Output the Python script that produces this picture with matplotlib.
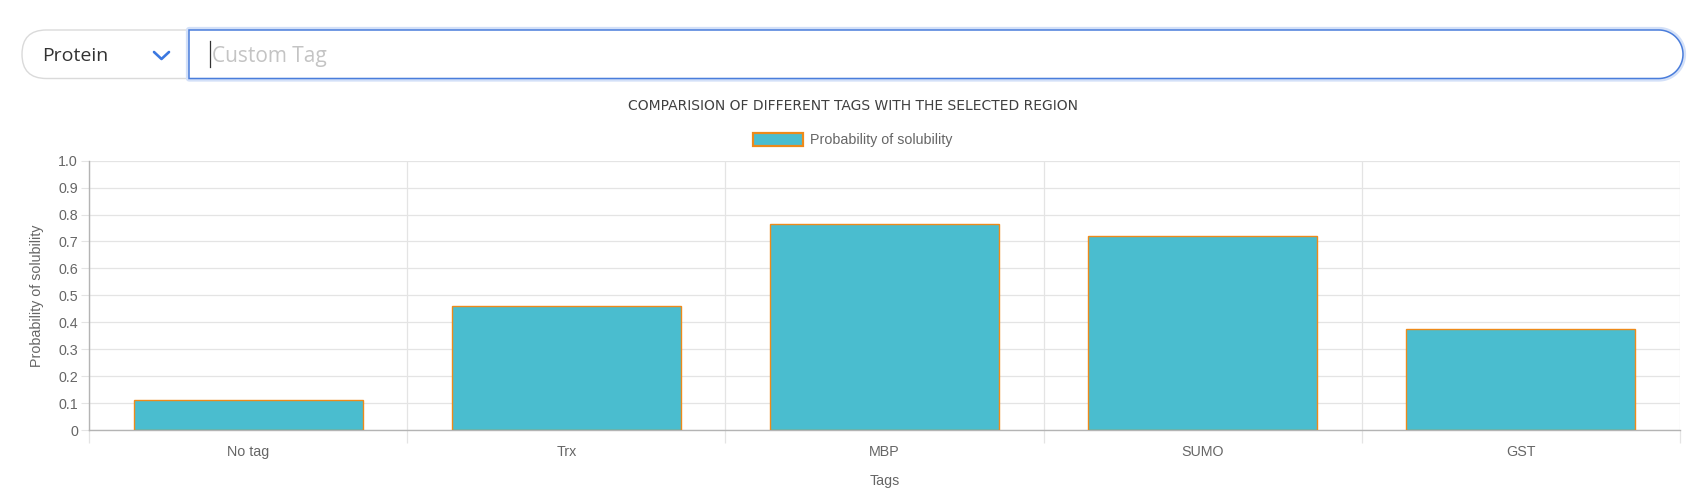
import matplotlib
matplotlib.use('Agg')
import matplotlib.pyplot as plt
import numpy as np
from matplotlib.patches import FancyBboxPatch, Polygon

# chart data
tags = ['No tag', 'Trx', 'MBP', 'SUMO', 'GST']
solubility = [0.113, 0.46, 0.766, 0.719, 0.375]
y_ticks = [0, 0.1, 0.2, 0.3, 0.4, 0.5, 0.6, 0.7, 0.8, 0.9, 1.0]
y_tick_labels = ['0', '0.1', '0.2', '0.3', '0.4', '0.5', '0.6', '0.7', '0.8', '0.9', '1.0']

W, H = 1705, 501
BAR_FILL = '#4abdcf'
BAR_EDGE = '#ee8a1a'
GRID = '#e4e4e4'
AXIS = '#b4b4b4'
TXT = '#666666'
FS = 10.3

plt.rcParams['font.family'] = ['Liberation Sans', 'DejaVu Sans']

fig = plt.figure(figsize=(W / 100, H / 100), dpi=100)

# ---- the form controls above the chart, in pixel coordinates
ui = fig.add_axes([0, 0, 1, 1])
ui.set_xlim(0, W)
ui.set_ylim(H, 0)
ui.axis('off')
ui.patch.set_alpha(0)

top, bot = 30, 78.5
r = (bot - top) / 2

# dropdown pill
ui.add_patch(FancyBboxPatch((22, top), 200, bot - top,
                            boxstyle='round,pad=0,rounding_size=%f' % r,
                            fc='white', ec='#dadada', lw=1.0))

# input box: square left side, round right side
ang = np.linspace(np.pi / 2, -np.pi / 2, 40)
cx = 1683 - r
pts = [(189, top)] + [(cx + r * np.cos(a), top + r - r * np.sin(a)) for a in ang] + [(189, bot)]
ui.add_patch(Polygon(pts, closed=True, fc='none', ec='#d3e0f8', lw=4.5, joinstyle='round'))
ui.add_patch(Polygon(pts, closed=True, fc='white', ec='#4a7ddb', lw=1.1))

ui.text(42, 56, 'Protein', fontsize=14, color='#333333', va='center', ha='left',
        family=['Open Sans', 'DejaVu Sans'])
ui.plot([154, 161.5, 169], [52, 59, 52], color='#3b78e0', lw=1.9, solid_capstyle='round')
ui.plot([210, 210], [41, 67], color='#333333', lw=0.9)
ui.text(212, 56, 'Custom Tag', fontsize=15, color='#c4c4c4', va='center', ha='left',
        family=['Open Sans', 'DejaVu Sans'])

# ---- chart
left, right, ytop, ybot = 89, 1680, 160.7, 430
ax = fig.add_axes([left / W, 1 - ybot / H, (right - left) / W, (ybot - ytop) / H])
x = np.arange(len(tags))
bars = ax.bar(x, solubility, width=0.72, color=BAR_FILL, edgecolor=BAR_EDGE,
              linewidth=1.0, label='Probability of solubility', zorder=3)

ax.set_xlim(-0.5, len(tags) - 0.5)
ax.set_ylim(0, 1.0)
ax.set_yticks(y_ticks)
ax.set_yticklabels(y_tick_labels)
ax.set_xticks(x)
ax.set_xticklabels(tags)
ax.set_xticks(np.arange(-0.5, len(tags)), minor=True)

ax.grid(True, axis='y', which='major', color=GRID, lw=0.9, zorder=0)
ax.grid(True, axis='x', which='minor', color=GRID, lw=0.9, zorder=0)
for s in ['top', 'right']:
    ax.spines[s].set_visible(False)
for s in ['left', 'bottom']:
    ax.spines[s].set_color(AXIS)
    ax.spines[s].set_linewidth(1.0)

ax.tick_params(axis='y', length=6, color=GRID, labelsize=FS, labelcolor=TXT, pad=2)
ax.tick_params(axis='x', which='major', length=0, labelsize=FS, labelcolor=TXT, pad=10.5)
ax.tick_params(axis='x', which='minor', length=9, color=GRID, width=0.9)
ax.xaxis.get_minor_ticks()[0].tick1line.set_color(AXIS)

ax.set_ylabel('Probability of solubility', fontsize=FS, color=TXT, labelpad=10)
ax.set_xlabel('Tags', fontsize=FS, color=TXT, labelpad=11)

leg = ax.legend(loc='center', bbox_to_anchor=(0.5, 1 - 140 / H), bbox_transform=fig.transFigure,
                frameon=False, fontsize=FS, handlelength=3.55, handleheight=1.1,
                handletextpad=0.45, borderpad=0, labelcolor=TXT)
leg.get_patches()[0].set_linewidth(1.6)

fig.text(0.5, 1 - 106.5 / H, 'COMPARISION OF DIFFERENT TAGS WITH THE SELECTED REGION',
         ha='center', va='center', fontsize=10, color='#404040',
         family=['DejaVu Sans'])

fig.savefig('out.png', dpi=100)
